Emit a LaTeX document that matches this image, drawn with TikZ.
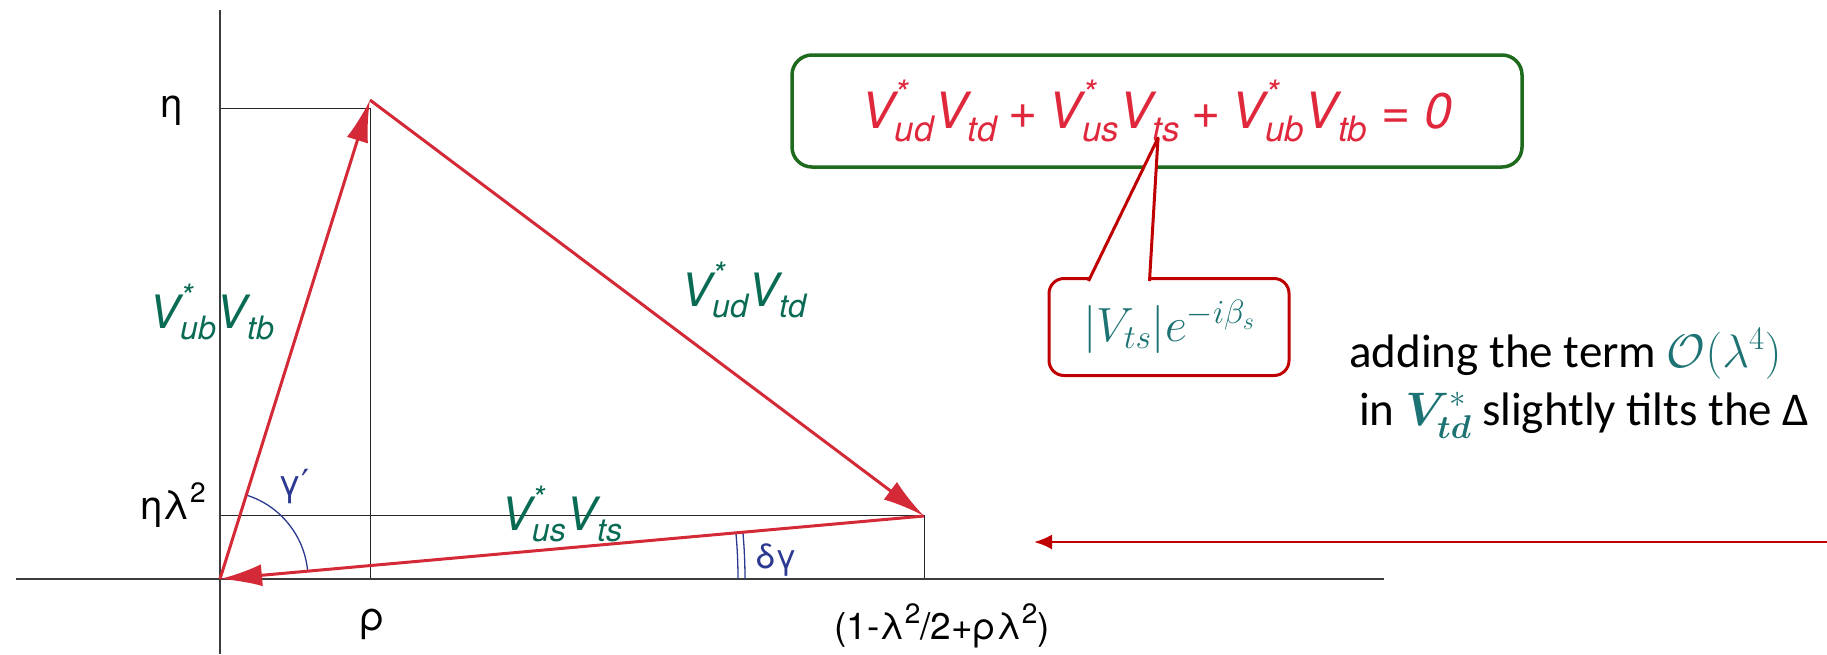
\RequirePackage{fix-cm}
\documentclass[tikz,border=0pt]{standalone}
\usepackage{amsmath,amssymb,bm}
\usepackage{fontspec}
\newfontfamily\heros{TeX Gyre Heros}
\newfontfamily\dejavu{DejaVu Sans}
\newfontfamily\carlito{Carlito}
\usetikzlibrary{arrows.meta,positioning,calc}
\definecolor{ckmred}{HTML}{D42A38}
\definecolor{eqred}{HTML}{E0283C}
\definecolor{ckmgreen}{HTML}{0A6B55}
\definecolor{ckmblue}{HTML}{2B3990}
\definecolor{boxgreen}{HTML}{1E6B1E}
\definecolor{boxred}{HTML}{C00000}
\definecolor{noteteal}{HTML}{1D7373}
\definecolor{axisgray}{HTML}{3C3C3C}
\newcommand{\ckm}[2]{\text{V}^{\text{#2}}_{\text{#1}}}
\newcommand{\sqr}{\raisebox{0.42em}{\fontsize{28}{28}\selectfont 2}}

\begin{document}
\begin{tikzpicture}[x=1pt,y=-1pt,>={Latex[length=42pt,width=22pt]}]
    \tikzset{axis/.style={draw=axisgray,line width=1.6pt},
      guide/.style={draw=black!85,line width=1pt},
      side/.style={->,draw=ckmred,line width=3pt},
      ang/.style={draw=ckmblue,line width=1.3pt},
      lbl/.style={inner sep=0pt,font=\heros\fontsize{40}{46}\selectfont},
      vlbl/.style={inner sep=0pt,text=ckmgreen,font=\heros\itshape\fontsize{46}{54}\selectfont},
      eqbox/.style={draw=boxgreen,line width=3.5pt,rounded corners=20pt,minimum width=730pt,minimum height=112pt,text=eqred,font=\heros\itshape\fontsize{50}{58}\selectfont},
      notebox/.style={draw=boxred,fill=white,line width=3pt,rounded corners=15pt,minimum width=240pt,minimum height=97pt,text=noteteal,font=\fontsize{48}{56}\selectfont},
      note/.style={inner sep=0pt,anchor=base west,font=\carlito\fontsize{47}{56}\selectfont}}
    \useasboundingbox (0,0) rectangle (1827,654);
    % guides and axes
    \draw[guide] (220,108) -| (370,579);
    \draw[guide] (220,515) -| (924,579);
    \draw[axis] (16,579) -- (1384,579);
    \draw[axis] (220,10) -- (220,654);
    \coordinate (O) at (220,579);
    \coordinate (A) at (370,100);
    \coordinate (B) at (924,516);
    % angles
    \draw[ang] ($(O)+(5.1:88pt)$) arc[start angle=5.1,end angle=72.6,radius=88pt];
    \draw[ang] ($(O)+(0:518pt)$) arc[start angle=0,end angle=5.1,radius=518pt];
    \draw[ang] ($(O)+(0:525pt)$) arc[start angle=0,end angle=5.1,radius=525pt];
    % unitarity triangle
    \draw[side] (O) -- (A);
    \draw[side] (A) -- (B);
    \draw[side] (B) -- (O);
    \node[lbl] (eta) at (172,111) {η};
    \node[lbl] (etalam) at (173,505) {ηλ\sqr};
    \node[lbl] (rho) at (372,624) {ρ};
    \node[lbl,font=\heros\fontsize{37}{44}\selectfont] (xval) at (942,626) {(1-λ\sqr/2+ρλ\sqr)};
    \node[lbl,text=ckmblue,font=\heros\fontsize{36}{42}\selectfont] (gam) at (294,487) {γ{\dejavu ′}};
    \node[lbl,text=ckmblue,font=\heros\fontsize{34}{40}\selectfont] (dgam) at (777,560) {δγ};
    \node[vlbl] (lub) at (212,312) {$\ckm{ub}{*}\ckm{tb}{}$};
    \node[vlbl] (lud) at (744,290) {$\ckm{ud}{*}\ckm{td}{}$};
    \node[vlbl] (lus) at (562,514) {$\ckm{us}{*}\ckm{ts}{}$};
    % callouts
    \node[eqbox] (eq) at (1157,111) {$\ckm{ud}{*}\ckm{td}{}\mathbin{\text{+}}\ckm{us}{*}\ckm{ts}{}\mathbin{\text{+}}\ckm{ub}{*}\ckm{tb}{}\mathrel{\text{=}}\text{0}$};
    \node[notebox] (vts) at (1169,327) {$|V_{ts}|e^{-i\beta_s}$};
    \coordinate (tip) at (1158,138);
    \filldraw[draw=boxred,fill=white,line width=3pt,line join=round] ($(vts.north west)+(41,4)$) -- (tip) -- ($(vts.north west)+(102,4)$);
    \node[note] (tilt1) at (1349,367) {adding the term \textcolor{noteteal}{$\mathcal{O}(\lambda^4)$}};
    \node[note] (tilt2) at (1359,425) {in \textcolor{noteteal}{$\boldsymbol{V}^{*}_{\boldsymbol{td}}$} slightly tilts the Δ};
    \coordinate (edge) at (1827,542);
    \coordinate (aim) at (1034,542);
    \draw[-{Latex[length=18pt,width=15pt]},draw=boxred,fill=boxred,line width=2.5pt] (edge) -- (aim);
  \end{tikzpicture}
\end{document}
